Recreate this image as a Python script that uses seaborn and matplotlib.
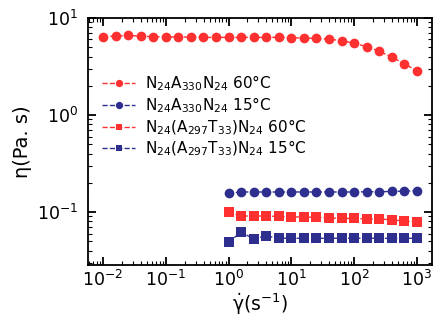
import numpy as np
import pandas as pd
import matplotlib
matplotlib.use("Agg")
import matplotlib.pyplot as plt
import seaborn as sns

# shear rates
rate_long = [10 ** (-2 + 0.2 * i) for i in range(26)]
rate_short = [10 ** (0.2 * i) for i in range(16)]

eta_A330_60 = [6.4, 6.5, 6.6, 6.5, 6.4, 6.4, 6.35, 6.35, 6.3, 6.3, 6.3, 6.3, 6.3,
               6.3, 6.3, 6.25, 6.2, 6.15, 6.05, 5.83, 5.48, 5.06, 4.54, 3.94, 3.38, 2.84]
eta_A330_15 = [0.156, 0.161, 0.161, 0.161, 0.161, 0.161, 0.161, 0.161, 0.161,
               0.161, 0.161, 0.162, 0.162, 0.163, 0.164, 0.166]
eta_AT_60 = [0.100, 0.091, 0.091, 0.091, 0.090, 0.089, 0.089, 0.088, 0.087,
             0.086, 0.086, 0.085, 0.085, 0.083, 0.081, 0.079]
eta_AT_15 = [0.049, 0.062, 0.053, 0.0567, 0.0537, 0.0537, 0.0537, 0.0537, 0.0537,
             0.0537, 0.0537, 0.0537, 0.0537, 0.0535, 0.0537, 0.0537]

labels = [r"N$_{24}$A$_{330}$N$_{24}$ 60°C",
          r"N$_{24}$A$_{330}$N$_{24}$ 15°C",
          r"N$_{24}$(A$_{297}$T$_{33}$)N$_{24}$ 60°C",
          r"N$_{24}$(A$_{297}$T$_{33}$)N$_{24}$ 15°C"]

sns.set_style("ticks", {"axes.edgecolor": "black", "axes.labelcolor": "black",
                        "text.color": "black", "xtick.color": "black",
                        "ytick.color": "black"})
plt.rcParams['font.family'] = ['DejaVu Sans']
plt.rcParams['mathtext.default'] = 'regular'

red = "#ff3030"
blue = "#2e2e8f"

fig = plt.figure(figsize=(4.34, 3.2), dpi=100)
ax = fig.add_axes([0.203, 0.172, 0.792, 0.772])

series = [
    (rate_long, eta_A330_60, red, "o", labels[0], 7),
    (rate_short, eta_A330_15, blue, "o", labels[1], 7),
    (rate_short, eta_AT_60, red, "s", labels[2], 6.5),
    (rate_short, eta_AT_15, blue, "s", labels[3], 6.5),
]
for x, y, c, m, lab, ms in series:
    df = pd.DataFrame({"x": x, "y": y})
    sns.lineplot(data=df, x="x", y="y", ax=ax, color=c, marker=m, markersize=ms,
                 markeredgewidth=0, linestyle="--", linewidth=1, label=lab)

ax.set_xscale("log")
ax.set_yscale("log")
ax.set_xlim(0.0058, 1730)
ax.set_ylim(0.0285, 10)
ax.set_xticks([1e-2, 1e-1, 1, 10, 100, 1000])

ax.tick_params(which="both", direction="in", top=True, right=True, labelsize=12.5)
ax.tick_params(which="major", length=6, width=1.3)
ax.tick_params(which="minor", length=3, width=0.8)
ax.tick_params(axis="y", which="major", pad=7)
for s in ax.spines.values():
    s.set_linewidth(1.3)

ax.set_xlabel(r"$\dot{\gamma}$(s$^{-1}$)", fontsize=13.5, labelpad=1)
ax.set_ylabel("η(Pa. s)", fontsize=14, labelpad=4)

ax.legend(loc="upper left", bbox_to_anchor=(0.0, 0.832), frameon=False,
          fontsize=11, handlelength=2.2, handletextpad=0.6, labelspacing=0.15,
          markerscale=0.75)

fig.savefig("out.png", dpi=100)
